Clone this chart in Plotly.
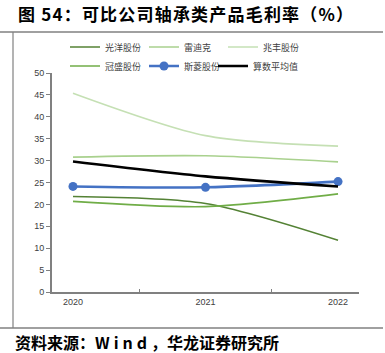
import plotly.graph_objects as go

years = ["2020", "2021", "2022"]
guangyang = [21.8, 20.2, 11.8]
leidike = [30.8, 31.1, 29.7]
zhaofeng = [45.4, 35.7, 33.3]
guansheng = [20.7, 19.5, 22.4]
siling = [24.1, 23.9, 25.2]
average = [29.8, 26.4, 24.1]

series = [
    ("光洋股份", guangyang, "#548235", 1.6, False, "legend"),
    ("雷迪克", leidike, "#a9d18e", 1.6, False, "legend"),
    ("兆丰股份", zhaofeng, "#c5e0b4", 1.6, False, "legend"),
    ("冠盛股份", guansheng, "#70ad47", 1.6, False, "legend2"),
    ("斯菱股份", siling, "#4472c4", 2.6, True, "legend2"),
    ("算数平均值", average, "#000000", 2.6, False, "legend3"),
]

fig = go.Figure()
for name, vals, color, w, mk, lg in series:
    fig.add_trace(go.Scatter(
        x=years, y=vals, name=name, legend=lg,
        mode="lines+markers" if mk else "lines",
        line=dict(color=color, width=w, shape="spline", smoothing=0.8),
        marker=dict(size=9, color=color) if mk else None,
    ))

PW, PH, L, T = 307, 219, 52, 73

legend_common = dict(
    orientation="h", xanchor="left", yanchor="middle",
    bgcolor="rgba(0,0,0,0)",
    font=dict(family="Noto Sans CJK SC", size=9, color="#404040"),
    itemwidth=30, tracegroupgap=0,
)
LX = 65

fig.update_layout(
    width=385, height=353,
    margin=dict(l=L, r=26, t=T, b=61),
    paper_bgcolor="white", plot_bgcolor="white",
    showlegend=True,
    legend=dict(x=(LX - L) / PW, y=1 + (T - 47) / PH, entrywidth=34, entrywidthmode="pixels",
                **legend_common),
    legend2=dict(x=(LX - L) / PW, y=1 + (T - 66) / PH, entrywidth=34, entrywidthmode="pixels",
                 **legend_common),
    legend3=dict(x=(LX + 148 - L) / PW, y=1 + (T - 66) / PH, **legend_common),
    xaxis=dict(
        type="category", showline=True, linecolor="#808080", linewidth=2,
        ticks="inside", tickson="boundaries", ticklen=3, tickcolor="#808080",
        tickfont=dict(family="Liberation Sans", size=9, color="#404040"),
        showgrid=False, zeroline=False,
    ),
    yaxis=dict(
        range=[0, 50], dtick=5, showline=True, linecolor="#808080", linewidth=2,
        ticks="outside", ticklen=4, tickcolor="#808080",
        tickfont=dict(family="Liberation Sans", size=9, color="#404040"),
        showgrid=False, zeroline=False,
    ),
    shapes=[
        dict(type="line", xref="paper", yref="paper", x0=-L / PW, x1=(383 - L) / PW,
             y0=1 + (T - 32) / PH, y1=1 + (T - 32) / PH, line=dict(color="#808080", width=1.5)),
        dict(type="line", xref="paper", yref="paper", x0=-L / PW, x1=(383 - L) / PW,
             y0=(292 - 328) / PH, y1=(292 - 328) / PH, line=dict(color="#808080", width=1.5)),
        dict(type="line", xref="paper", yref="paper", x0=(13 - L) / PW, x1=(13 - L) / PW,
             y0=(292 - 328) / PH, y1=1 + (T - 32) / PH, line=dict(color="#808080", width=1.2)),
    ],
    annotations=[
        dict(text="<b><span style='letter-spacing:1.2px'>图 54：可比公司轴承类产品毛利率（%）</span></b>",
             xref="paper", yref="paper",
             x=(16 - L) / PW, y=1 + (T - 14) / PH, xanchor="left", yanchor="middle", showarrow=False,
             font=dict(family="Noto Sans CJK SC", size=17, color="#000000")),
        dict(text="<b>资料来源：<span style='letter-spacing:4px'>Wind</span>，华龙证券研究所</b>",
             xref="paper", yref="paper",
             x=(13 - L) / PW, y=(292 - 342) / PH, xanchor="left", yanchor="middle", showarrow=False,
             font=dict(family="Noto Sans CJK SC", size=16, color="#000000")),
    ],
)

fig.write_html("out.html")
